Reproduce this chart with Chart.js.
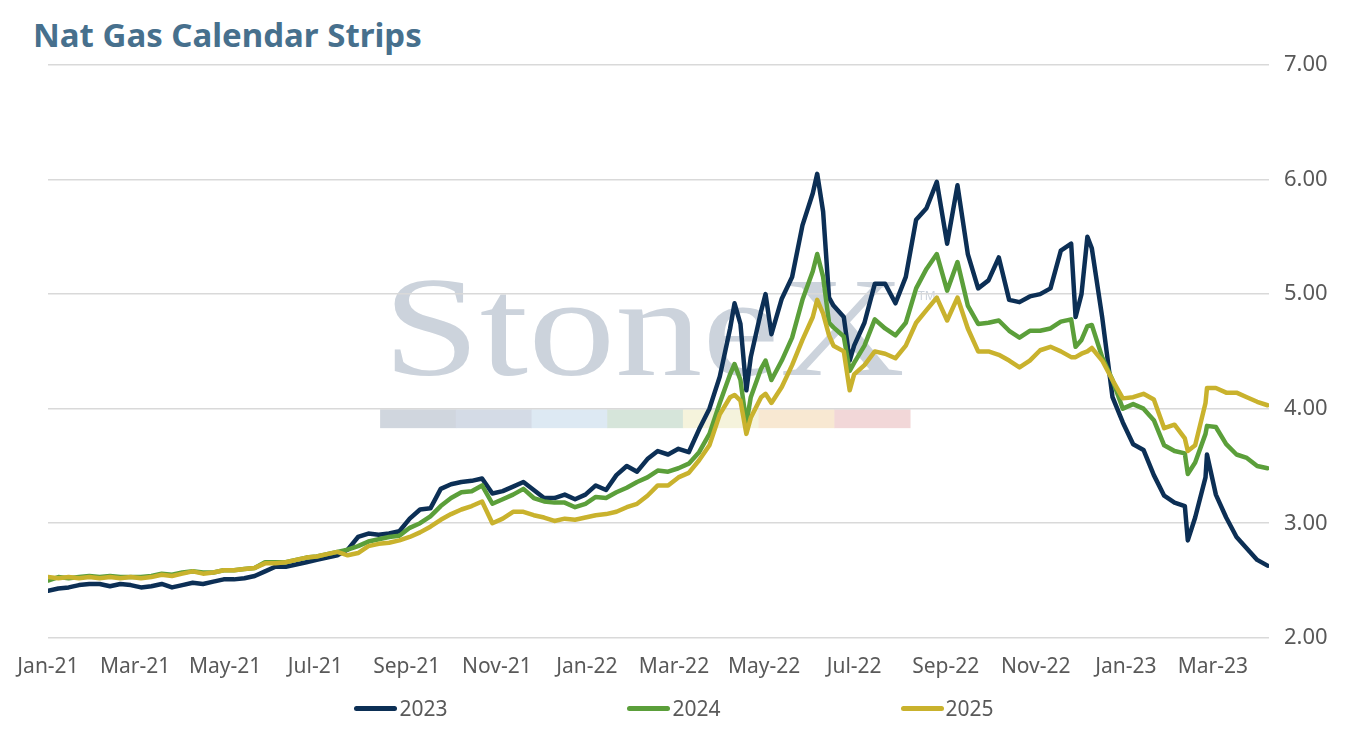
<!DOCTYPE html>
<html>
<head>
<meta charset="utf-8">
<script src="https://cdn.jsdelivr.net/npm/chart.js@4/dist/chart.umd.min.js"></script>
<style>
  body { margin: 0; background: #fff; }
  #wrap { position: relative; width: 1348px; height: 730px; overflow: hidden; }
  #title { position: absolute; left: 33px; top: 18px; font: bold 33px "Noto Sans", sans-serif; line-height: 1; color: #47708d; white-space: nowrap; }
  #chart { position: absolute; left: 0; top: 0; }
  #legend { position: absolute; left: 0; top: 696px; width: 1348px; height: 24px; display: flex; justify-content: center; align-items: center; gap: 180px; font: 21px "Noto Sans", sans-serif; color: #595959; }
  #legend .item { display: flex; align-items: center; }
  #legend .swatch { width: 43px; height: 5px; border-radius: 3px; margin-right: 2px; }
</style>
</head>
<body>
<div id="wrap">
  <div id="title">Nat Gas Calendar Strips</div>
  <canvas id="chart" width="1348" height="730"></canvas>
  <div id="legend"></div>
</div>
<script>
// weekly settles (Fridays) plus a few extra days where the strips spiked
const dates = [
  '2021-01-01','2021-01-08','2021-01-15','2021-01-22','2021-01-29',
  '2021-02-05','2021-02-12','2021-02-19','2021-02-26',
  '2021-03-05','2021-03-12','2021-03-19','2021-03-26',
  '2021-04-02','2021-04-09','2021-04-16','2021-04-23','2021-04-30',
  '2021-05-07','2021-05-14','2021-05-21','2021-05-28',
  '2021-06-04','2021-06-11','2021-06-18','2021-06-25',
  '2021-07-02','2021-07-09','2021-07-16','2021-07-23','2021-07-30',
  '2021-08-06','2021-08-13','2021-08-20','2021-08-27',
  '2021-09-03','2021-09-10','2021-09-17','2021-09-24',
  '2021-10-01','2021-10-08','2021-10-15','2021-10-22','2021-10-29',
  '2021-11-05','2021-11-12','2021-11-19','2021-11-26',
  '2021-12-03','2021-12-10','2021-12-17','2021-12-24','2021-12-31',
  '2022-01-07','2022-01-14','2022-01-21','2022-01-28',
  '2022-02-04','2022-02-11','2022-02-18','2022-02-25',
  '2022-03-04','2022-03-11','2022-03-18','2022-03-25',
  '2022-04-01','2022-04-08','2022-04-11','2022-04-15','2022-04-19','2022-04-22','2022-04-29',
  '2022-05-02','2022-05-06','2022-05-13','2022-05-20','2022-05-27',
  '2022-06-03','2022-06-06','2022-06-10','2022-06-14','2022-06-17','2022-06-24','2022-06-28',
  '2022-07-01','2022-07-08','2022-07-15','2022-07-22','2022-07-29',
  '2022-08-05','2022-08-12','2022-08-19','2022-08-26',
  '2022-09-02','2022-09-09','2022-09-16','2022-09-23','2022-09-30',
  '2022-10-07','2022-10-14','2022-10-21','2022-10-28',
  '2022-11-04','2022-11-11','2022-11-18','2022-11-25','2022-11-28',
  '2022-12-02','2022-12-06','2022-12-09','2022-12-16','2022-12-23','2022-12-30',
  '2023-01-06','2023-01-13','2023-01-20','2023-01-27',
  '2023-02-03','2023-02-10','2023-02-12','2023-02-17','2023-02-24','2023-02-25',
  '2023-03-03','2023-03-10','2023-03-17','2023-03-24','2023-03-31',
  '2023-04-07'
];

const strip2023 = [
  2.41,2.43,2.44,2.46,2.47, 2.47,2.45,2.47,2.46, 2.44,2.45,2.47,2.44,
  2.46,2.48,2.47,2.49,2.51, 2.51,2.52,2.54,2.58, 2.62,2.62,2.64,2.66,
  2.68,2.70,2.72,2.77,2.88, 2.91,2.90,2.91,2.93, 3.04,3.12,3.13,3.30,
  3.34,3.36,3.37,3.39,3.26, 3.28,3.32,3.36,3.29, 3.22,3.22,3.25,3.21,3.25,
  3.33,3.29,3.42,3.50, 3.45,3.56,3.63,3.60, 3.65,3.62,3.82,4.00,
  4.28,4.70,4.92,4.74,4.16,4.45,4.85, 5.00,4.65,4.96,5.15,5.60,
  5.88,6.05,5.72,4.97,4.90,4.80,4.42, 4.55,4.75,5.09,5.09,4.92,
  5.15,5.65,5.75,5.98, 5.44,5.95,5.35,5.05,5.12, 5.32,4.95,4.93,4.98,
  5.00,5.05,5.38,5.44,4.80, 5.00,5.50,5.40,4.80,4.10,3.88,
  3.69,3.64,3.42,3.24, 3.18,3.15,2.85,3.05,3.40,3.60,
  3.25,3.05,2.88,2.78,2.68, 2.63
];

const strip2024 = [
  2.50,2.53,2.52,2.53,2.54, 2.53,2.54,2.53,2.53, 2.53,2.54,2.56,2.55,
  2.57,2.58,2.57,2.57,2.59, 2.59,2.60,2.61,2.66, 2.66,2.66,2.68,2.70,
  2.71,2.73,2.75,2.77,2.80, 2.84,2.86,2.88,2.89, 2.96,3.00,3.06,3.15,
  3.22,3.27,3.28,3.33,3.17, 3.21,3.25,3.30,3.22, 3.19,3.18,3.18,3.14,3.17,
  3.23,3.22,3.27,3.31, 3.36,3.40,3.46,3.45, 3.48,3.52,3.62,3.78,
  4.05,4.30,4.39,4.25,3.87,4.10,4.35, 4.42,4.25,4.42,4.62,4.95,
  5.20,5.35,5.15,4.75,4.71,4.63,4.33, 4.40,4.55,4.78,4.70,4.64,
  4.75,5.05,5.22,5.35, 5.03,5.28,4.90,4.74,4.75, 4.77,4.68,4.62,4.68,
  4.68,4.70,4.76,4.78,4.54, 4.60,4.72,4.73,4.45,4.25,4.00,
  4.04,4.00,3.90,3.68, 3.63,3.61,3.43,3.53,3.78,3.85,
  3.84,3.69,3.60,3.57,3.50, 3.48
];

const strip2025 = [
  2.53,2.52,2.53,2.52,2.53, 2.52,2.53,2.52,2.53, 2.52,2.53,2.55,2.54,
  2.56,2.58,2.56,2.57,2.59, 2.59,2.60,2.61,2.65, 2.65,2.66,2.68,2.70,
  2.71,2.73,2.75,2.72,2.74, 2.80,2.82,2.83,2.85, 2.88,2.92,2.97,3.03,
  3.08,3.12,3.15,3.19,3.00, 3.04,3.10,3.10,3.07, 3.05,3.02,3.04,3.03,3.05,
  3.07,3.08,3.10,3.14, 3.17,3.24,3.33,3.33, 3.40,3.44,3.55,3.68,
  3.95,4.10,4.12,4.07,3.78,3.92,4.10, 4.13,4.05,4.19,4.38,4.60,
  4.80,4.95,4.83,4.64,4.55,4.50,4.16, 4.30,4.38,4.50,4.48,4.44,
  4.55,4.75,4.86,4.97, 4.77,4.97,4.70,4.50,4.50, 4.47,4.42,4.36,4.42,
  4.51,4.54,4.50,4.45,4.45, 4.48,4.50,4.53,4.42,4.25,4.09,
  4.10,4.13,4.08,3.83, 3.86,3.74,3.63,3.68,4.05,4.18,
  4.18,4.14,4.14,4.10,4.06, 4.03
];

const tickLabels = ['Jan-21','Mar-21','May-21','Jul-21','Sep-21','Nov-21','Jan-22',
  'Mar-22','May-22','Jul-22','Sep-22','Nov-22','Jan-23','Mar-23'];

const seriesNames = ['2023', '2024', '2025'];
const seriesColours = ['#0c2f55', '#5b9f3a', '#c9b22d'];
const stripColours = ['#d0d6de', '#d4dbe6', '#dde9f3', '#d6e5da', '#f5f3dc', '#f8e8d2', '#f2d7d8'];

const MONTHS = ['Jan','Feb','Mar','Apr','May','Jun','Jul','Aug','Sep','Oct','Nov','Dec'];
const start = Date.UTC(2021, 0, 1);
const dayOf = s => { const [y, m, d] = s.split('-').map(Number); return (Date.UTC(y, m - 1, d) - start) / 864e5; };
const tickDay = lbl => { const [mon, yy] = lbl.split('-'); return (Date.UTC(2000 + +yy, MONTHS.indexOf(mon), 1) - start) / 864e5; };
const tickDays = tickLabels.map(tickDay);

const toPoints = vals => vals.map((v, i) => ({ x: dayOf(dates[i]), y: v }));

// faint company mark behind the lines
const watermark = {
  id: 'watermark',
  beforeDraw(chart) {
    const { ctx, chartArea: a } = chart;
    const w = a.right - a.left, h = a.bottom - a.top;
    const x0 = a.left + w * 0.272, x1 = a.left + w * 0.706;
    ctx.save();
    const sw = (x1 - x0) / stripColours.length;
    stripColours.forEach((c, i) => {
      ctx.fillStyle = c;
      ctx.fillRect(x0 + i * sw, a.top + h * 0.601, sw + 0.5, h * 0.033);
    });
    ctx.fillStyle = '#ccd3dc';
    ctx.font = '142px "Liberation Serif", serif';
    ctx.textBaseline = 'alphabetic';
    const tw = ctx.measureText('StoneX').width;
    ctx.save();
    ctx.translate(x0 + 3, a.top + h * 0.542);
    ctx.scale((x1 - x0 - 8) / tw, 1);
    ctx.fillText('StoneX', 0, 0);
    ctx.restore();
    ctx.font = '12px "Noto Sans", sans-serif';
    ctx.fillText('TM', x1 + 8, a.top + h * 0.41);
    ctx.restore();
  }
};

const chart = new Chart(document.getElementById('chart'), {
  type: 'line',
  data: {
    datasets: [strip2023, strip2024, strip2025].map((vals, i) => ({
      label: seriesNames[i],
      data: toPoints(vals),
      borderColor: seriesColours[i],
      backgroundColor: seriesColours[i],
      borderWidth: 4.5,
      borderJoinStyle: 'round',
      borderCapStyle: 'round',
      pointRadius: 0,
      tension: 0,
      order: 2 - i
    }))
  },
  options: {
    responsive: false,
    animation: false,
    layout: { padding: { top: 65, right: 0, bottom: 33, left: 48 } },
    plugins: { legend: { display: false }, tooltip: { enabled: false } },
    scales: {
      x: {
        type: 'linear',
        min: 0,
        max: 827,
        grid: { display: false, drawTicks: false },
        border: { display: false },
        afterBuildTicks: scale => { scale.ticks = tickDays.map(v => ({ value: v })); },
        ticks: {
          autoSkip: false,
          maxRotation: 0,
          padding: 17,
          color: '#595959',
          font: { family: '"Noto Sans", sans-serif', size: 21 },
          callback: v => tickLabels[tickDays.indexOf(v)]
        }
      },
      y: {
        position: 'right',
        min: 2,
        max: 7,
        afterFit: scale => { scale.width = 79; },
        grid: { color: '#d9d9d9', lineWidth: 1.5, drawTicks: false },
        border: { display: false },
        ticks: {
          stepSize: 1,
          padding: 15,
          color: '#595959',
          font: { family: '"Noto Sans", sans-serif', size: 22 },
          callback: v => v.toFixed(2)
        }
      }
    }
  },
  plugins: [watermark]
});

// legend in the chart's own order, spaced like the original
const legendEl = document.getElementById('legend');
chart.data.datasets.forEach(ds => {
  const item = document.createElement('div');
  item.className = 'item';
  const sw = document.createElement('span');
  sw.className = 'swatch';
  sw.style.background = ds.borderColor;
  const txt = document.createElement('span');
  txt.textContent = ds.label;
  item.appendChild(sw);
  item.appendChild(txt);
  legendEl.appendChild(item);
});
</script>
</body>
</html>
